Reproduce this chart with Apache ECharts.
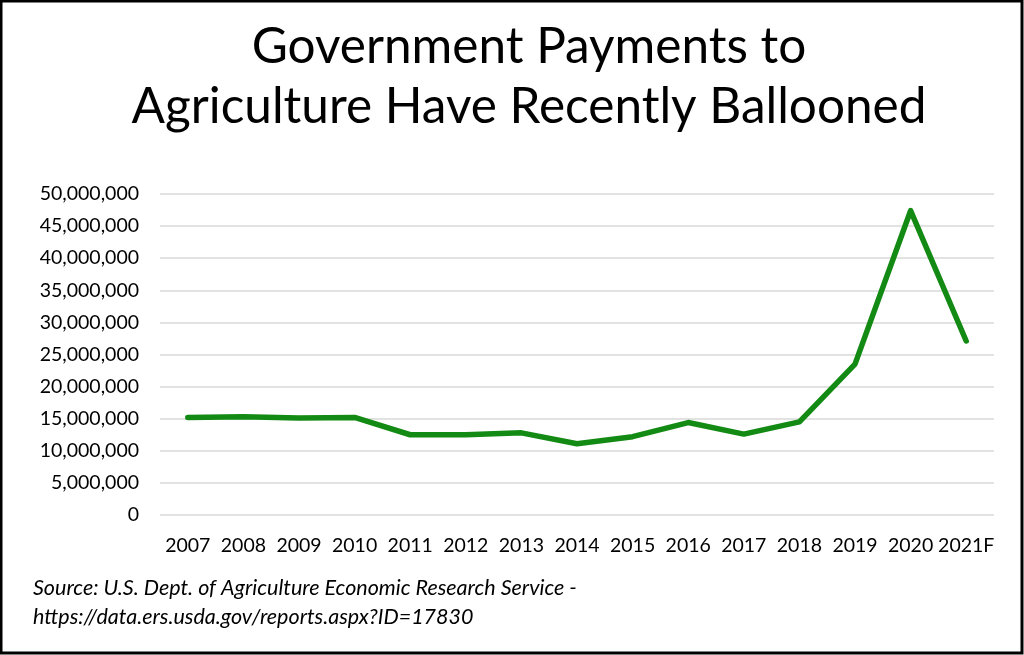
<!DOCTYPE html>
<html>
<head>
<meta charset="utf-8">
<script type="text/javascript" src="https://cdn.jsdelivr.net/npm/echarts@6/dist/echarts.min.js"></script>
<style>
    html, body { margin: 0; padding: 0; background: #fff; }
</style>
</head>
<body>
<div id="main" style="width: 1024px;height:655px;"></div>
<script type="text/javascript">

    var years = ['2007', '2008', '2009', '2010', '2011', '2012', '2013', '2014',
        '2015', '2016', '2017', '2018', '2019', '2020', '2021F'];
    var payments = [15200000, 15300000, 15100000, 15200000, 12500000, 12500000, 12800000, 11100000,
        12200000, 14400000, 12600000, 14500000, 23500000, 47400000, 27100000];

    var titleLines = ['Government Payments to', 'Agriculture Have Recently Ballooned'];
    var sourceLines = ['Source: U.S. Dept. of Agriculture Economic Research Service -',
        'https://data.ers.usda.gov/reports.aspx?ID=17830'];

    var font = 'Lato, "Open Sans", sans-serif';

    var myChart = echarts.init(document.getElementById('main'));

    var option = {
        backgroundColor: '#fff',
        animation: false,
        title: {
            text: titleLines.join('\n'),
            // the title in the original sits a little right of centre
            left: 524,
            textAlign: 'center',
            top: 12,
            textStyle: {
                fontFamily: font,
                fontWeight: 'normal',
                fontSize: 49.5,
                lineHeight: 60,
                color: '#000'
            }
        },
        grid: {
            left: 160,
            right: 30,
            top: 194,
            bottom: 140
        },
        xAxis: {
            type: 'category',
            data: years,
            boundaryGap: true,
            axisLine: { show: false },
            axisTick: { show: false },
            axisLabel: {
                fontFamily: font,
                fontSize: 19.5,
                color: '#000',
                margin: 21,
                interval: 0
            }
        },
        yAxis: {
            type: 'value',
            min: 0,
            max: 50000000,
            interval: 5000000,
            axisLine: { show: false },
            axisTick: { show: false },
            splitLine: { lineStyle: { color: '#d9d9d9', width: 1.5 } },
            axisLabel: {
                fontFamily: font,
                fontSize: 19.5,
                color: '#000',
                margin: 21,
                formatter: function (v) {
                    return v.toString().replace(/\B(?=(\d{3})+(?!\d))/g, ',');
                }
            }
        },
        series: [{
            name: 'Payments',
            type: 'line',
            data: payments,
            showSymbol: false,
            symbol: 'none',
            lineStyle: { color: '#138a13', width: 5.5, cap: 'round', join: 'round' },
            itemStyle: { color: '#138a13' }
        }],
        graphic: [{
            type: 'text',
            left: 33,
            top: 574,
            style: {
                text: sourceLines.join('\n'),
                font: 'italic 21.5px ' + font,
                lineHeight: 29,
                fill: '#000'
            }
        }, {
            type: 'rect',
            shape: { x: 1, y: 1, width: 1021, height: 652 },
            style: { fill: 'none', stroke: '#000', lineWidth: 3 },
            silent: true
        }]
    };

    myChart.setOption(option);

</script>
</body>
</html>
